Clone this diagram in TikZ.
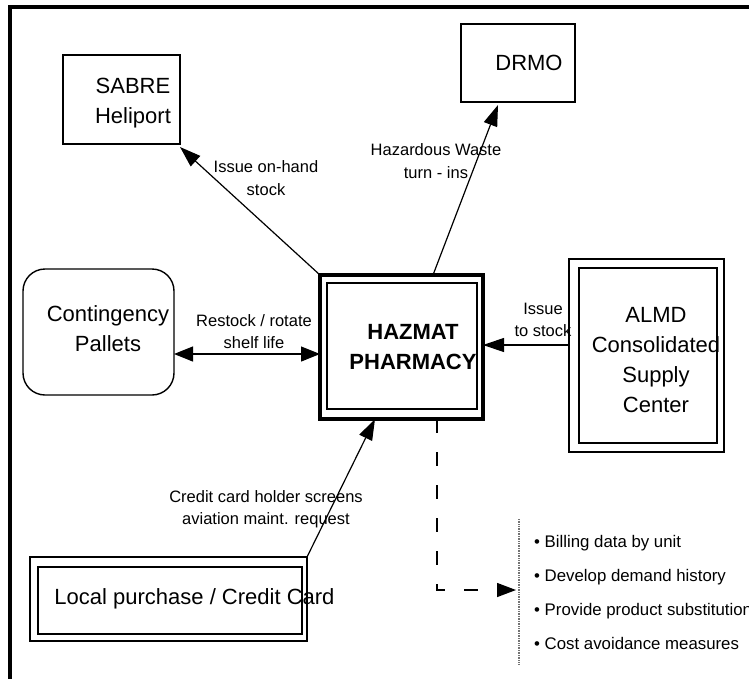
\documentclass[tikz,border=0pt]{standalone}
\usepackage{fontspec}
\setmainfont{Liberation Sans}
\usetikzlibrary{arrows.meta,calc}
\tikzset{
  box/.style={draw, line width=1.4pt, inner sep=0pt, outer sep=0pt},
  big/.style={font=\fontsize{22}{30}\selectfont, align=center, inner sep=0pt},
  small/.style={font=\fontsize{16.5}{22.5}\selectfont, align=center, inner sep=0pt},
  bul/.style={font=\fontsize{16.8}{20}\selectfont, anchor=base west, inner sep=0pt},
  arr/.style={line width=1.2pt, -{Triangle[length=21pt,width=14pt]}},
  dblarr/.style={line width=1.2pt, {Triangle[length=19pt,width=15pt]}-{Triangle[length=19pt,width=15pt]}},
  dasharr/.style={line width=1.4pt, dash pattern=on 14pt off 19pt, -{Triangle[length=19pt,width=14pt]}},
}
\begin{document}
\begin{tikzpicture}[x=1pt,y=-1pt]
\useasboundingbox (0,0) rectangle (749,678);
\clip (0,0) rectangle (749,678);
\fill[white] (0,0) rectangle (749,678);
% frame
\draw[line width=3.5pt] (10,700) -- (10,7) -- (760,7);

% boxes
\node[box, minimum width=117pt, minimum height=89pt] (sabre) at (121.5,99.5) {};
\node[big] (sabret) at (133,103.5) {SABRE\\Heliport};

\node[box, minimum width=114pt, minimum height=78pt] (drmo) at (518,63) {};
\node[big] (drmot) at (529,63) {DRMO};

\node[box, rounded corners=22pt, minimum width=151pt, minimum height=126pt] (cont) at (98.5,332) {};
\node[big] (contt) at (108,328.5) {Contingency\\Pallets};

\node[box, line width=3.2pt, minimum width=163pt, minimum height=144pt] (haz) at (401.5,347) {};
\node[box, line width=1.6pt, minimum width=150pt, minimum height=126pt] (hazin) at (402,346) {};
\node[big, font=\fontsize{22}{30}\selectfont\bfseries] (hazt) at (413,347) {HAZMAT\\PHARMACY};

\node[box, line width=1.3pt, minimum width=155pt, minimum height=193pt] (almd) at (646.5,355.5) {};
\node[box, line width=1.8pt, minimum width=138pt, minimum height=175pt] (almdin) at (648,355.5) {};
\node[big] (almdt) at (656,360.5) {ALMD\\Consolidated\\Supply\\Center};

\node[box, line width=1.1pt, minimum width=277pt, minimum height=84pt] (local) at (168.5,599) {};
\node[box, line width=1.8pt, minimum width=264pt, minimum height=67pt] (localin) at (170,600.5) {};
\node[big, anchor=base] (localt) at (194.5,604) {Local purchase / Credit Card};

% connectors
\draw[arr] (haz.north west) -- ([yshift=-3pt]sabre.south east);
\node[small] (l1) at (266,178) {Issue on-hand\\stock};

\draw[arr] ([xshift=31.5pt]haz.north) -- ([xshift=-20pt,yshift=-3pt]drmo.south);
\node[small] (l2) at (436,161) {Hazardous Waste\\turn - ins};

\draw[dblarr] ([yshift=-22pt]cont.east) -- ([yshift=-22pt]cont.east -| haz.west);
\node[small] (l3) at (254,331.5) {Restock / rotate\\shelf life};

\draw[arr] ([yshift=10.5pt]almd.west) -- ([yshift=10.5pt]almd.west -| haz.east);
\node[small] (l4) at (543,320) {Issue\\to stock};

\draw[arr] (local.north east) -- ([xshift=-26.5pt]haz.south);
\node[small] (l5) at (266,509) {Credit card holder screens\\aviation maint. request};

% dashed output
\coordinate (lend) at (516,590);
\draw[dasharr] ([xshift=35.5pt]haz.south) |- (lend);
\draw[black!55, line width=1.1pt, dash pattern=on 1pt off 0.7pt] (519,519) -- (519,665);

\node[bul] (b1) at (534,547) {• Billing data by unit};
\node[bul] (b2) at (534,581) {• Develop demand history};
\node[bul] (b3) at (534,615) {• Provide product substitution};
\node[bul] (b4) at (534,649) {• Cost avoidance measures};
\end{tikzpicture}
\end{document}
